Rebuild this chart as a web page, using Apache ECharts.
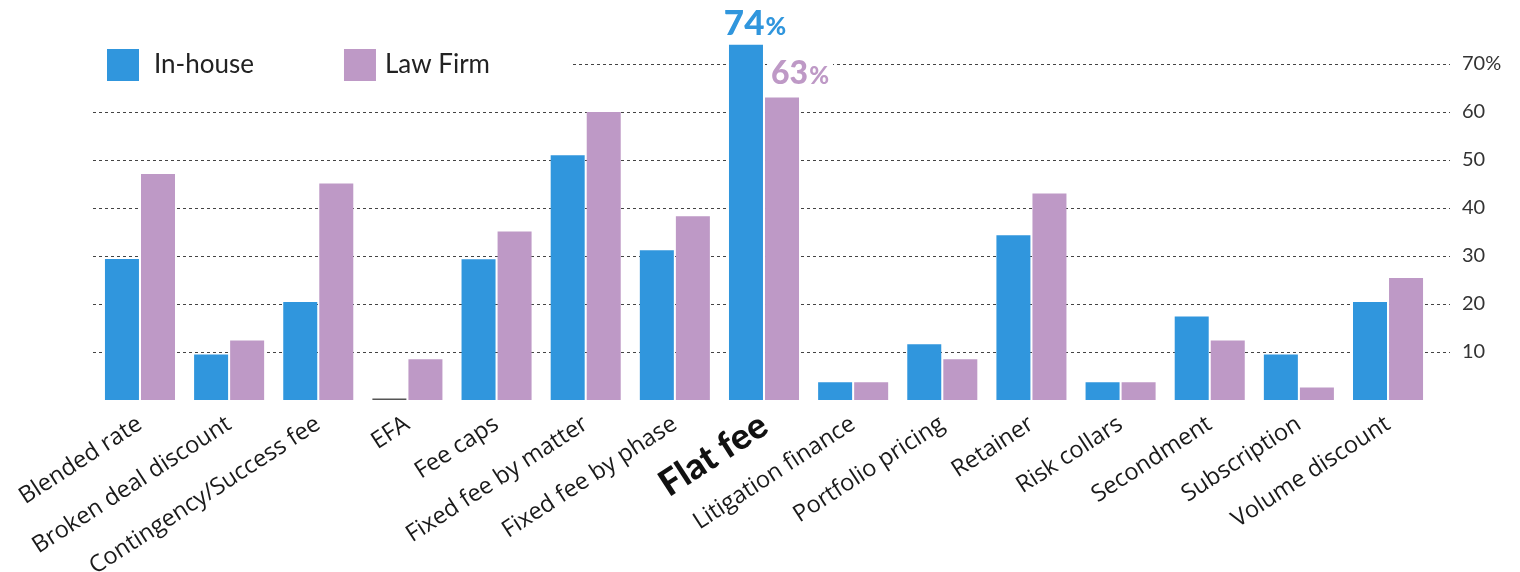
<!DOCTYPE html>
<html>
<head>
<meta charset="utf-8">
<script src="https://cdn.jsdelivr.net/npm/echarts@6/dist/echarts.min.js"></script>
<style>
  html, body { margin: 0; padding: 0; background: #fff; }
  #main { width: 1520px; height: 572px; }
</style>
</head>
<body>
<div id="main"></div>
<script>
// values (percent of respondents)
const categories = ['Blended rate', 'Broken deal discount', 'Contingency/Success fee', 'EFA', 'Fee caps',
  'Fixed fee by matter', 'Fixed fee by phase', 'Flat fee', 'Litigation finance', 'Portfolio pricing',
  'Retainer', 'Risk collars', 'Secondment', 'Subscription', 'Volume discount'];
const inHouse = [29.4, 9.5, 20.4, 0, 29.3, 51, 31.2, 74, 3.7, 11.6, 34.3, 3.7, 17.4, 9.5, 20.4];
const lawFirm = [47.1, 12.4, 45.1, 8.5, 35.1, 60, 38.3, 63, 3.7, 8.5, 43, 3.7, 12.4, 2.6, 25.4];
const highlight = 'Flat fee';

const BLUE = '#3096dd';
const PURPLE = '#be99c6';

const chart = echarts.init(document.getElementById('main'));

const pctLabel = (color, big, small, extra) => Object.assign({
  show: true,
  position: 'top',
  formatter: p => '{n|' + Math.round(p.value) + '}{s|%}',
  rich: {
    n: { fontFamily: 'Lato', fontWeight: 900, fontSize: big, color: color, verticalAlign: 'bottom' },
    s: { fontFamily: 'Lato', fontWeight: 900, fontSize: small, color: color, verticalAlign: 'bottom', padding: [0, 0, 1, 1] }
  }
}, extra);

const hi = categories.indexOf(highlight);

const inHouseData = inHouse.map((v, i) => {
  if (i === hi) return { value: v, label: pctLabel(BLUE, 35, 25, { offset: [9, 1] }) };
  if (v === 0) return { value: v, itemStyle: { color: '#555' } };
  return v;
});
const lawFirmData = lawFirm.map((v, i) => {
  if (i === hi) return {
    value: v,
    label: pctLabel(PURPLE, 32, 24, { offset: [18, -3], backgroundColor: '#fff', padding: [0, 4, 0, 4] })
  };
  return v;
});

const option = {
  animation: false,
  legend: {
    left: 93,
    top: 39,
    padding: [10, 80, 10, 14],
    backgroundColor: '#fff',
    icon: 'rect',
    itemWidth: 32,
    itemHeight: 32,
    itemGap: 90,
    textStyle: { fontFamily: 'Lato', fontSize: 26, color: '#222' },
    data: [
      { name: 'In-house', textStyle: { padding: [0, 0, 0, 10] } },
      { name: 'Law Firm', textStyle: { padding: [0, 0, 0, 4] } }
    ]
  },
  grid: [
    { left: 95.4, right: 87.4, top: 64, bottom: 172, outerBoundsMode: 'none' },
    { left: 93, right: 70, top: 64, bottom: 172, outerBoundsMode: 'none' }
  ],
  xAxis: [
    {
      type: 'category',
      gridIndex: 0,
      data: categories.map(c => c === highlight
        ? { value: c, textStyle: { fontSize: 36, fontWeight: 900, color: '#111', fontFamily: 'Lato' } }
        : c),
      axisLine: { show: false },
      axisTick: { show: false },
      axisLabel: { rotate: 33, margin: 22, fontSize: 23.5, fontFamily: 'Open Sans', color: '#1a1a1a', interval: 0 }
    },
    { type: 'value', gridIndex: 1, show: false, min: 0, max: 1 }
  ],
  yAxis: [
    { type: 'value', gridIndex: 0, min: 0, max: 70, show: false },
    {
      type: 'value',
      gridIndex: 1,
      position: 'right',
      min: 0,
      max: 70,
      interval: 10,
      axisLine: { show: false },
      axisTick: { show: false },
      axisLabel: {
        margin: 12,
        fontFamily: 'Lato',
        fontSize: 20,
        color: '#333',
        showMinLabel: false,
        formatter: v => v === 70 ? '70%' : String(v)
      },
      splitLine: { show: true, showMinLine: false, lineStyle: { color: '#444', width: 1, type: [3, 3] } }
    }
  ],
  series: [
    {
      name: 'In-house',
      type: 'bar',
      xAxisIndex: 0,
      yAxisIndex: 0,
      clip: false,
      barWidth: 34,
      barGap: '6%',
      barMinHeight: 1.5,
      itemStyle: { color: BLUE },
      data: inHouseData
    },
    {
      name: 'Law Firm',
      type: 'bar',
      xAxisIndex: 0,
      yAxisIndex: 0,
      clip: false,
      barWidth: 34,
      itemStyle: { color: PURPLE },
      data: lawFirmData
    }
  ]
};

chart.setOption(option);
</script>
</body>
</html>
